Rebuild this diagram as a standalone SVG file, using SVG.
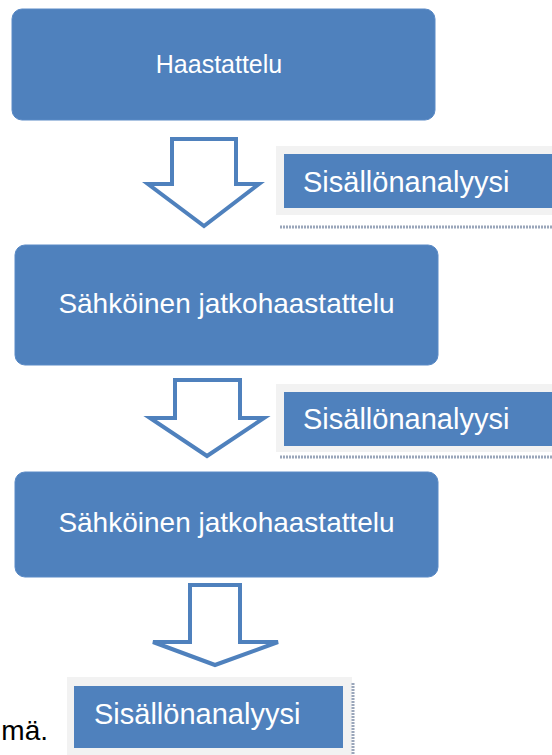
<svg xmlns="http://www.w3.org/2000/svg" width="552" height="755" viewBox="0 0 552 755">
  <style>
    .step { fill: #4f81bd; stroke: #5a8ac6; stroke-width: 1; }
    .step-text { font-family: "Liberation Sans", Arial, sans-serif; font-size: 28px; fill: #ffffff; text-anchor: middle; }
    .tag-bg { fill: #f2f2f2; }
    .tag { fill: #4f81bd; }
    .tag-text { font-family: "Liberation Sans", Arial, sans-serif; font-size: 29px; fill: #ffffff; }
    .flow { fill: #ffffff; stroke: #4f81bd; stroke-width: 4; stroke-linejoin: miter; }
    .rule { stroke: #9aa6ba; stroke-width: 3; stroke-dasharray: 2 1; }
    .caption { font-family: "Liberation Sans", Arial, sans-serif; font-size: 28px; fill: #000000; }
  </style>

  <!-- process steps -->
  <g id="step-haastattelu">
    <rect class="step" x="12" y="9" width="423" height="111" rx="10"/>
    <text class="step-text" x="219" y="73" style="font-size:25px">Haastattelu</text>
  </g>
  <g id="step-jatko-1">
    <rect class="step" x="15" y="245" width="423" height="120" rx="10"/>
    <text class="step-text" x="226.5" y="313">Sähköinen jatkohaastattelu</text>
  </g>
  <g id="step-jatko-2">
    <rect class="step" x="15" y="472" width="423" height="105" rx="10"/>
    <text class="step-text" x="226.5" y="532">Sähköinen jatkohaastattelu</text>
  </g>

  <!-- block arrows between steps -->
  <g id="connectors">
    <path class="flow" d="M172 139 H236 V184 H259 L204 226 L148 184 H172 Z"/>
    <path class="flow" d="M175 380 H240 V418 H264 L207 456 L150 418 H175 Z"/>
    <path class="flow" d="M190 585 H240 V642 H278 L215 665 L153 642 H190 Z"/>
  </g>

  <!-- analysis labels -->
  <g id="analyysi-1">
    <rect class="tag-bg" x="276" y="146" width="276" height="69"/>
    <rect class="tag" x="284" y="154" width="268" height="54"/>
    <text class="tag-text" x="303" y="192">Sisällönanalyysi</text>
    <line class="rule" x1="280" y1="227" x2="552" y2="227"/>
  </g>
  <g id="analyysi-2">
    <rect class="tag-bg" x="276" y="384" width="276" height="68"/>
    <rect class="tag" x="284" y="392" width="268" height="54"/>
    <text class="tag-text" x="303" y="429">Sisällönanalyysi</text>
    <line class="rule" x1="280" y1="457" x2="552" y2="457"/>
  </g>
  <g id="analyysi-3">
    <rect class="tag-bg" x="67" y="677" width="285" height="78"/>
    <rect class="tag" x="74" y="686" width="269" height="62"/>
    <text class="tag-text" x="94" y="724">Sisällönanalyysi</text>
    <line class="rule" x1="353" y1="683" x2="353" y2="755"/>
  </g>

  <text class="caption" x="48" y="740" text-anchor="end">mä.</text>
</svg>
